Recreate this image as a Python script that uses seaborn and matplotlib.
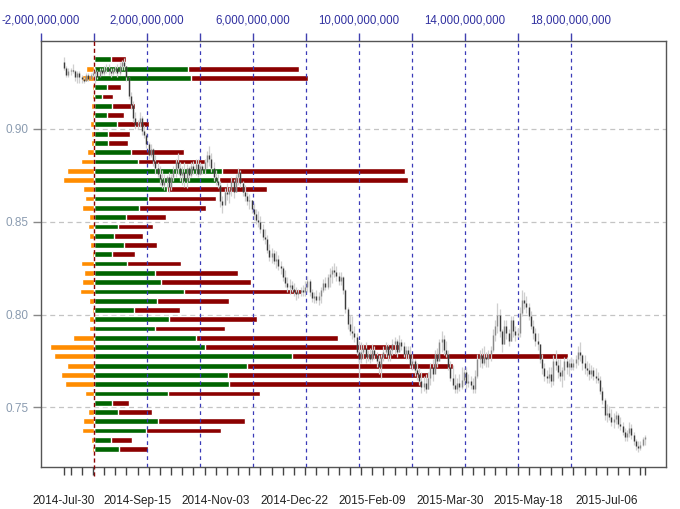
import numpy as np
import pandas as pd
import matplotlib
matplotlib.use("Agg")
import matplotlib.pyplot as plt
import seaborn as sns
from matplotlib.ticker import FixedLocator

# ---------------- volume-at-price data (billions), top level first ----------------
price_levels = [0.9375, 0.9325, 0.9275, 0.9225, 0.9175, 0.9125, 0.9075, 0.9025, 0.8975, 0.8925,
                0.8875, 0.8825, 0.8775, 0.8725, 0.8675, 0.8625, 0.8575, 0.8525, 0.8475, 0.8425,
                0.8375, 0.8325, 0.8275, 0.8225, 0.8175, 0.8125, 0.8075, 0.8025, 0.7975, 0.7925,
                0.7875, 0.7825, 0.7775, 0.7725, 0.7675, 0.7625, 0.7575, 0.7525, 0.7475, 0.7425,
                0.7375, 0.7325, 0.7275]
vol_up = [0.63, 3.55, 3.65, 0.48, 0.30, 0.69, 0.48, 0.86, 0.54, 0.54,
          1.41, 1.66, 4.85, 4.72, 2.77, 2.04, 1.70, 1.22, 0.91, 0.75,
          1.13, 0.68, 1.26, 2.29, 2.52, 3.40, 2.37, 1.51, 2.82, 2.29,
          3.85, 4.18, 7.46, 5.79, 5.06, 5.09, 2.79, 0.68, 0.91, 2.42,
          1.95, 0.63, 0.94]
vol_total = [1.20, 7.74, 8.08, 1.03, 0.73, 1.54, 1.13, 2.08, 1.35, 1.30,
             3.40, 4.19, 11.76, 11.84, 6.52, 4.59, 4.24, 2.73, 2.24, 1.85,
             2.38, 1.54, 3.27, 5.43, 5.94, 7.86, 5.09, 3.23, 6.17, 4.93,
             9.21, 11.54, 17.90, 13.55, 12.66, 12.35, 6.26, 1.32, 2.20, 5.70,
             4.78, 1.45, 2.03]
vol_other = [-0.05, -0.31, -0.44, -0.06, -0.06, -0.10, -0.06, -0.15, -0.12, -0.12,
             -0.25, -0.48, -1.03, -1.17, -0.40, -0.34, -0.44, -0.20, -0.23, -0.17,
             -0.15, -0.06, -0.48, -0.38, -0.46, -0.54, -0.20, -0.09, -0.20, -0.20,
             -0.78, -1.67, -1.51, -1.00, -1.26, -1.09, -0.34, -0.02, -0.23, -0.42,
             -0.46, -0.12, -0.09]

# ---------------- daily price bars ----------------
first_open = 0.936
close = [0.933, 0.929, 0.931, 0.932, 0.931, 0.928, 0.930, 0.928, 0.927, 0.926,
         0.929, 0.927, 0.929, 0.930, 0.931, 0.928, 0.932, 0.930, 0.932, 0.933,
         0.931, 0.930, 0.932, 0.933, 0.930, 0.934, 0.936, 0.934, 0.928, 0.918,
         0.913, 0.906, 0.902, 0.903, 0.906, 0.899, 0.897, 0.892, 0.886, 0.889,
         0.883, 0.879, 0.876, 0.873, 0.870, 0.872, 0.874, 0.869, 0.874, 0.878,
         0.882, 0.879, 0.875, 0.877, 0.872, 0.879, 0.875, 0.880, 0.878, 0.881,
         0.876, 0.880, 0.878, 0.882, 0.886, 0.884, 0.879, 0.874, 0.872, 0.870,
         0.861, 0.859, 0.866, 0.865, 0.867, 0.872, 0.866, 0.874, 0.877, 0.871,
         0.866, 0.864, 0.861, 0.862, 0.857, 0.854, 0.851, 0.850, 0.846, 0.842,
         0.841, 0.835, 0.831, 0.833, 0.829, 0.830, 0.826, 0.825, 0.820, 0.817,
         0.815, 0.816, 0.814, 0.812, 0.811, 0.812, 0.813, 0.812, 0.815, 0.818,
         0.812, 0.809, 0.810, 0.808, 0.810, 0.813, 0.817, 0.815, 0.820, 0.822,
         0.824, 0.823, 0.821, 0.818, 0.820, 0.813, 0.803, 0.795, 0.791, 0.790,
         0.788, 0.780, 0.776, 0.780, 0.782, 0.777, 0.779, 0.776, 0.781, 0.778,
         0.775, 0.772, 0.777, 0.780, 0.783, 0.778, 0.781, 0.784, 0.786, 0.780,
         0.785, 0.783, 0.779, 0.781, 0.779, 0.773, 0.775, 0.770, 0.768, 0.764,
         0.761, 0.763, 0.760, 0.766, 0.772, 0.768, 0.779, 0.775, 0.785, 0.787,
         0.781, 0.779, 0.772, 0.766, 0.762, 0.760, 0.763, 0.761, 0.765, 0.769,
         0.763, 0.764, 0.762, 0.760, 0.767, 0.776, 0.778, 0.774, 0.777, 0.776,
         0.779, 0.781, 0.789, 0.794, 0.800, 0.791, 0.784, 0.794, 0.790, 0.786,
         0.797, 0.791, 0.789, 0.790, 0.801, 0.808, 0.806, 0.804, 0.799, 0.794,
         0.790, 0.786, 0.784, 0.776, 0.771, 0.767, 0.766, 0.768, 0.764, 0.775,
         0.773, 0.769, 0.767, 0.770, 0.775, 0.772, 0.774, 0.772, 0.774, 0.776,
         0.780, 0.778, 0.774, 0.771, 0.770, 0.768, 0.770, 0.767, 0.766, 0.765,
         0.759, 0.754, 0.746, 0.747, 0.745, 0.742, 0.744, 0.746, 0.741, 0.740,
         0.737, 0.734, 0.736, 0.739, 0.735, 0.732, 0.729, 0.728, 0.730, 0.733,
         0.734]
high = [0.939, 0.934, 0.933, 0.933, 0.935, 0.932, 0.931, 0.931, 0.929, 0.928,
        0.930, 0.930, 0.930, 0.932, 0.933, 0.932, 0.933, 0.933, 0.934, 0.935,
        0.935, 0.933, 0.933, 0.934, 0.935, 0.936, 0.937, 0.938, 0.934, 0.928,
        0.920, 0.915, 0.909, 0.905, 0.909, 0.907, 0.902, 0.898, 0.893, 0.892,
        0.890, 0.886, 0.882, 0.880, 0.878, 0.876, 0.875, 0.877, 0.876, 0.880,
        0.884, 0.887, 0.882, 0.880, 0.882, 0.881, 0.880, 0.882, 0.883, 0.884,
        0.884, 0.882, 0.881, 0.884, 0.888, 0.891, 0.887, 0.882, 0.878, 0.876,
        0.872, 0.864, 0.868, 0.871, 0.869, 0.874, 0.873, 0.876, 0.879, 0.878,
        0.872, 0.870, 0.866, 0.865, 0.862, 0.860, 0.857, 0.856, 0.853, 0.849,
        0.846, 0.843, 0.838, 0.836, 0.835, 0.834, 0.832, 0.829, 0.826, 0.824,
        0.820, 0.819, 0.818, 0.817, 0.815, 0.814, 0.815, 0.816, 0.818, 0.821,
        0.819, 0.814, 0.812, 0.813, 0.812, 0.815, 0.819, 0.820, 0.822, 0.825,
        0.826, 0.828, 0.826, 0.823, 0.823, 0.821, 0.814, 0.804, 0.800, 0.799,
        0.794, 0.790, 0.786, 0.785, 0.784, 0.785, 0.781, 0.782, 0.784, 0.783,
        0.780, 0.778, 0.779, 0.783, 0.785, 0.784, 0.782, 0.787, 0.788, 0.787,
        0.789, 0.787, 0.785, 0.783, 0.783, 0.783, 0.779, 0.776, 0.774, 0.771,
        0.769, 0.767, 0.768, 0.769, 0.774, 0.776, 0.781, 0.782, 0.787, 0.791,
        0.789, 0.786, 0.781, 0.775, 0.773, 0.768, 0.766, 0.768, 0.772, 0.771,
        0.772, 0.768, 0.767, 0.766, 0.770, 0.779, 0.781, 0.782, 0.783, 0.780,
        0.781, 0.783, 0.792, 0.797, 0.806, 0.803, 0.792, 0.797, 0.797, 0.792,
        0.799, 0.799, 0.794, 0.793, 0.804, 0.813, 0.812, 0.810, 0.806, 0.802,
        0.797, 0.793, 0.790, 0.784, 0.779, 0.774, 0.770, 0.772, 0.772, 0.778,
        0.781, 0.776, 0.776, 0.772, 0.777, 0.777, 0.776, 0.777, 0.776, 0.778,
        0.783, 0.785, 0.779, 0.778, 0.775, 0.774, 0.773, 0.772, 0.771, 0.769,
        0.767, 0.761, 0.755, 0.752, 0.751, 0.749, 0.747, 0.748, 0.747, 0.745,
        0.742, 0.739, 0.738, 0.742, 0.741, 0.737, 0.733, 0.732, 0.732, 0.734,
        0.735]
low = [0.932, 0.928, 0.928, 0.929, 0.930, 0.926, 0.925, 0.925, 0.925, 0.925,
       0.926, 0.926, 0.927, 0.928, 0.925, 0.927, 0.929, 0.929, 0.929, 0.930,
       0.929, 0.928, 0.929, 0.930, 0.928, 0.929, 0.932, 0.932, 0.926, 0.916,
       0.911, 0.904, 0.900, 0.900, 0.901, 0.897, 0.895, 0.890, 0.884, 0.885,
       0.880, 0.876, 0.874, 0.870, 0.868, 0.867, 0.868, 0.866, 0.867, 0.872,
       0.874, 0.876, 0.872, 0.870, 0.869, 0.868, 0.872, 0.874, 0.876, 0.875,
       0.874, 0.875, 0.876, 0.876, 0.879, 0.880, 0.877, 0.872, 0.870, 0.868,
       0.858, 0.855, 0.860, 0.862, 0.860, 0.864, 0.863, 0.866, 0.870, 0.869,
       0.864, 0.861, 0.859, 0.857, 0.855, 0.851, 0.849, 0.847, 0.844, 0.840,
       0.838, 0.833, 0.829, 0.828, 0.827, 0.825, 0.824, 0.822, 0.818, 0.815,
       0.812, 0.811, 0.812, 0.810, 0.808, 0.809, 0.810, 0.810, 0.810, 0.812,
       0.810, 0.807, 0.806, 0.806, 0.805, 0.806, 0.812, 0.813, 0.814, 0.815,
       0.817, 0.820, 0.818, 0.816, 0.816, 0.811, 0.801, 0.792, 0.789, 0.787,
       0.785, 0.778, 0.766, 0.774, 0.776, 0.774, 0.775, 0.774, 0.775, 0.776,
       0.772, 0.768, 0.766, 0.775, 0.777, 0.775, 0.775, 0.778, 0.779, 0.777,
       0.780, 0.781, 0.777, 0.776, 0.776, 0.771, 0.770, 0.767, 0.765, 0.762,
       0.758, 0.759, 0.758, 0.760, 0.762, 0.764, 0.770, 0.772, 0.775, 0.780,
       0.778, 0.777, 0.770, 0.764, 0.760, 0.758, 0.758, 0.759, 0.760, 0.762,
       0.760, 0.761, 0.760, 0.758, 0.758, 0.766, 0.772, 0.771, 0.773, 0.772,
       0.772, 0.775, 0.780, 0.786, 0.790, 0.788, 0.780, 0.784, 0.787, 0.783,
       0.786, 0.788, 0.786, 0.788, 0.788, 0.799, 0.803, 0.801, 0.797, 0.792,
       0.787, 0.783, 0.781, 0.774, 0.768, 0.764, 0.763, 0.763, 0.761, 0.762,
       0.770, 0.766, 0.764, 0.761, 0.765, 0.768, 0.767, 0.770, 0.770, 0.771,
       0.773, 0.775, 0.770, 0.768, 0.767, 0.765, 0.766, 0.765, 0.763, 0.763,
       0.757, 0.752, 0.743, 0.742, 0.743, 0.740, 0.739, 0.741, 0.739, 0.738,
       0.735, 0.732, 0.732, 0.734, 0.733, 0.730, 0.727, 0.726, 0.727, 0.729,
       0.730]

date_labels = ["2014-Jul-30", "2014-Sep-15", "2014-Nov-03", "2014-Dec-22",
               "2015-Feb-09", "2015-Mar-30", "2015-May-18", "2015-Jul-06"]
price_ticks = [0.75, 0.80, 0.85, 0.90]
vol_ticks = [-2, 0, 2, 4, 6, 8, 10, 12, 14, 16, 18]
vol_labelled = [-2, 2, 6, 10, 14, 18]

# ---------------- figure ----------------
sns.set_theme(style="white")
plt.rcParams["font.family"] = ["Liberation Sans", "DejaVu Sans"]

W, H = 680, 509
fig = plt.figure(figsize=(W / 100, H / 100), dpi=100)
L, R, T, B = 41, 666, 41, 467
ax = fig.add_axes([L / W, 1 - B / H, (R - L) / W, (B - T) / H])
ax2 = ax.twiny()   # price axis, drawn above the volume bars

vol = pd.DataFrame({"level": price_levels, "up": vol_up,
                    "total": vol_total, "other": vol_other})

common = dict(data=vol, y="level", orient="h", native_scale=True,
              width=0.62, errorbar=None, saturation=1, ax=ax, zorder=2)
sns.barplot(x="total", color="#8B0000", **common)
sns.barplot(x="up", color="#006400", **common)
sns.barplot(x="other", color="#FF8C00", **common)

ax.set_xlim(-2, 21.6)
ax.set_ylim(0.7179, 0.9474)
ax.set_xlabel("")
ax.set_ylabel("")

for p in price_ticks:
    ax.axhline(p, color="#c4c4c4", lw=0.9, ls=(0, (4, 3)), zorder=1)
for v in vol_ticks:
    if v > 0:
        ax.axvline(v, color="#3a3ab8", lw=0.9, ls=(0, (3, 3)), zorder=3)
ax.axvline(0, ymin=-0.022, ymax=1, color="#8B0000", lw=1.0, ls=(0, (3, 2)),
           zorder=3, clip_on=False)

ax.xaxis.tick_top()
ax.xaxis.set_label_position("top")
ax.set_xticks(vol_ticks)
ax.set_xticklabels([f"{int(v * 1e9):,}" if v in vol_labelled else "" for v in vol_ticks])
ax.tick_params(axis="x", which="major", top=True, bottom=False, labeltop=True,
               labelbottom=False, length=6, width=1,
               color="#4040b0", labelcolor="#3030a0", labelsize=8.3, pad=4.5)
ax.set_yticks(price_ticks)
ax.set_yticklabels([f"{p:.2f}" for p in price_ticks])
ax.tick_params(axis="y", left=True, length=6, width=1, color="#888888",
               labelcolor="#8a9bb0", labelsize=8.5, pad=3)
for s in ax.spines.values():
    s.set_color("#555555")
    s.set_linewidth(1.0)

# ---------------- price bars on the twin axis ----------------
n = len(close)
idx = np.arange(n)
opens = np.array([first_open] + close[:-1])
cl = np.array(close)
hi = np.array(high)
lo = np.array(low)
ax2.vlines(idx, lo, hi, color="#cfcfcf", lw=0.9, zorder=4)
up_mask = cl >= opens
ax2.vlines(idx[up_mask], opens[up_mask], cl[up_mask], color="#8a8a8a", lw=1.0, zorder=5)
ax2.vlines(idx[~up_mask], opens[~up_mask], cl[~up_mask], color="#3a3a3a", lw=1.0, zorder=5)
ax2.set_xlim((L - 63.8) / 2.235, (R - 63.8) / 2.235)
ax2.set_ylim(0.7179, 0.9474)

dates = pd.bdate_range("2014-07-30", periods=n)
label_dates = pd.to_datetime(date_labels, format="%Y-%b-%d")
label_pos = [int(np.where(dates == d)[0][0]) for d in label_dates]
mondays = [i for i, d in enumerate(dates) if d.weekday() == 0]
minor_pos = sorted(set([0, n - 1] + mondays) - set(label_pos))

ax2.xaxis.tick_bottom()
ax2.xaxis.set_major_locator(FixedLocator(label_pos))
ax2.set_xticklabels(date_labels)
ax2.xaxis.set_minor_locator(FixedLocator(minor_pos))
ax2.tick_params(axis="x", which="major", bottom=True, top=False, labelbottom=True,
                labeltop=False, length=6, width=1,
                color="#444444", labelcolor="#222222", labelsize=8.5, pad=14)
ax2.tick_params(axis="x", which="minor", bottom=True, top=False, length=6, width=1,
                color="#444444")
ax2.tick_params(axis="y", left=False, right=False, labelleft=False, labelright=False)
for s in ax2.spines.values():
    s.set_visible(False)

fig.savefig("out.png", dpi=100)
